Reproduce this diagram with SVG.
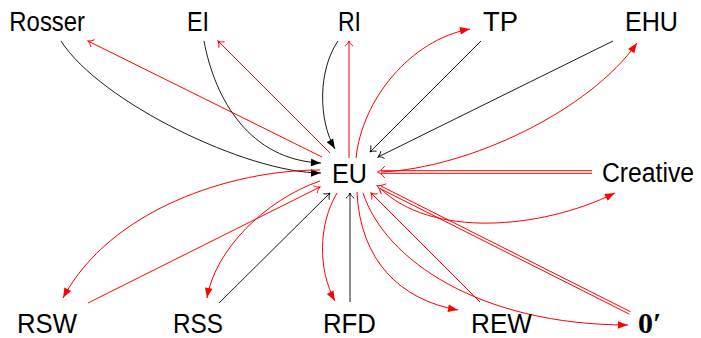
<svg xmlns="http://www.w3.org/2000/svg" width="701" height="338" viewBox="0 0 701 338">
<style>
  .lbl { font-family: "Liberation Sans", Arial, sans-serif; font-size: 27px; fill: #000; text-anchor: middle; }
  .zero { font-family: "Liberation Serif", "DejaVu Serif", serif; font-size: 30px; font-weight: bold; fill: #000; }
  .k { fill: none; stroke: #000; stroke-width: 0.9; }
  .r { fill: none; stroke: #ff0000; stroke-width: 1; }
  .fk { marker-end: url(#fk); }
  .fr { marker-end: url(#fr); }
  .ok { marker-end: url(#ok); }
  .or { marker-end: url(#or); }
  .dr { fill: none; stroke: none; marker-end: url(#dr); }
</style>
<defs>
  <marker id="fk" overflow="visible" orient="auto" markerUnits="userSpaceOnUse" markerWidth="12" markerHeight="10">
    <path d="M0,0 C-3,-1 -7,-2.6 -10,-3.8 L-10,3.8 C-7,2.6 -3,1 0,0 z" fill="#000"/>
  </marker>
  <marker id="fr" overflow="visible" orient="auto" markerUnits="userSpaceOnUse" markerWidth="12" markerHeight="10">
    <path d="M0,0 C-3,-1 -7,-2.6 -10,-3.8 L-10,3.8 C-7,2.6 -3,1 0,0 z" fill="#ff0000"/>
  </marker>
  <marker id="ok" overflow="visible" orient="auto" markerUnits="userSpaceOnUse" markerWidth="8" markerHeight="8">
    <path d="M-5,-3.8 C-3.5,-1.8 -1.2,-0.4 0,0 C-1.2,0.4 -3.5,1.8 -5,3.8" fill="none" stroke="#000" stroke-width="0.9" stroke-linecap="round"/>
  </marker>
  <marker id="or" overflow="visible" orient="auto" markerUnits="userSpaceOnUse" markerWidth="8" markerHeight="8">
    <path d="M-5,-3.8 C-3.5,-1.8 -1.2,-0.4 0,0 C-1.2,0.4 -3.5,1.8 -5,3.8" fill="none" stroke="#ff0000" stroke-width="1" stroke-linecap="round"/>
  </marker>
  <marker id="dr" overflow="visible" orient="auto" markerUnits="userSpaceOnUse" markerWidth="10" markerHeight="12">
    <path d="M-7,-5.5 C-4.5,-2.5 -1.5,-0.6 0,0 C-1.5,0.6 -4.5,2.5 -7,5.5" fill="none" stroke="#ff0000" stroke-width="1" stroke-linecap="round"/>
  </marker>
</defs>

<g id="connectors">
  <path id="e-Rosser-EU" class="k fk" d="M61,41 C100,102 247,173 321,173"/>
  <path id="e-EI-EU" class="k fk" d="M204,41 C215,100 250,160 321,163"/>
  <path id="e-RI-EU" class="k fk" d="M338,41 C318,70 318,120 335,149"/>
  <path id="e-TP-EU" class="k ok" d="M481,41 L370,152"/>
  <path id="e-EHU-EU" class="k ok" d="M613,41 L378,157"/>
  <path id="e-RFD-EU" class="k ok" d="M350,302 L350,193"/>
  <path id="e-RSS-EU" class="k ok" d="M219,303 L330,193"/>
  <path id="e-EU-RI" class="r or" d="M349,158 L349,41"/>
  <path id="e-EU-Rosser" class="r or" d="M322,157 L88,41"/>
  <path id="e-EU-EI" class="r or" d="M330,153 L218,41"/>
  <path id="e-REW-EU" class="r or" d="M480,302 L371,193"/>
  <path id="e-RSW-EU" class="r or" d="M88,303 L320,187"/>
  <path id="e-EU-TP" class="r fr" d="M356,158 C362,100 410,40 470,29"/>
  <path id="e-EU-EHU" class="r fr" d="M381,172 C470,168 590,110 637,43"/>
  <path id="e-EU-Creative" class="r fr" d="M380,188 C430,238 540,230 615,193"/>
  <path id="e-EU-0" class="r fr" d="M363,193 C385,260 480,325 628,325"/>
  <path id="e-EU-REW" class="r fr" d="M357,192 C360,260 400,300 458,310"/>
  <path id="e-EU-RFD" class="r fr" d="M337,193 C318,225 318,270 335,301"/>
  <path id="e-EU-RSS" class="r fr" d="M320,181 C265,200 215,250 207,298"/>
  <path id="e-EU-RSW" class="r fr" d="M320,170 C230,170 110,210 63,298"/>
  <g id="e-Creative-EU">
    <path class="r" d="M592,170.7 L380.5,170.7"/>
    <path class="r" d="M592,173.3 L380.5,173.3"/>
    <path class="dr" d="M592,172 L377.5,172"/>
  </g>
  <g id="e-0-EU">
    <path class="r" d="M630.6,311.8 L381.1,186.1"/>
    <path class="r" d="M629.4,314.2 L379.9,188.5"/>
    <path class="dr" d="M630,313 L377.3,185.6"/>
  </g>
</g>

<g id="n-Rosser"><text class="lbl" x="47.2" y="31" textLength="75.7" lengthAdjust="spacingAndGlyphs">Rosser</text></g>
<g id="n-EI"><text class="lbl" x="198" y="31" textLength="22" lengthAdjust="spacingAndGlyphs">EI</text></g>
<g id="n-RI"><text class="lbl" x="349.5" y="31" textLength="23" lengthAdjust="spacingAndGlyphs">RI</text></g>
<g id="n-TP"><text class="lbl" x="500.5" y="31" textLength="35" lengthAdjust="spacingAndGlyphs">TP</text></g>
<g id="n-EHU"><text class="lbl" x="651.5" y="31" textLength="53" lengthAdjust="spacingAndGlyphs">EHU</text></g>
<g id="n-EU"><text class="lbl" x="349.5" y="183" textLength="35" lengthAdjust="spacingAndGlyphs">EU</text></g>
<g id="n-Creative"><text class="lbl" x="648" y="182" textLength="92" lengthAdjust="spacingAndGlyphs">Creative</text></g>
<g id="n-RSW"><text class="lbl" x="47" y="333" textLength="60" lengthAdjust="spacingAndGlyphs">RSW</text></g>
<g id="n-RSS"><text class="lbl" x="198" y="333" textLength="50" lengthAdjust="spacingAndGlyphs">RSS</text></g>
<g id="n-RFD"><text class="lbl" x="349.5" y="333" textLength="53" lengthAdjust="spacingAndGlyphs">RFD</text></g>
<g id="n-REW"><text class="lbl" x="501.5" y="333" textLength="61" lengthAdjust="spacingAndGlyphs">REW</text></g>
<g id="n-0"><text class="zero" x="638" y="333">0′</text></g>
</svg>
